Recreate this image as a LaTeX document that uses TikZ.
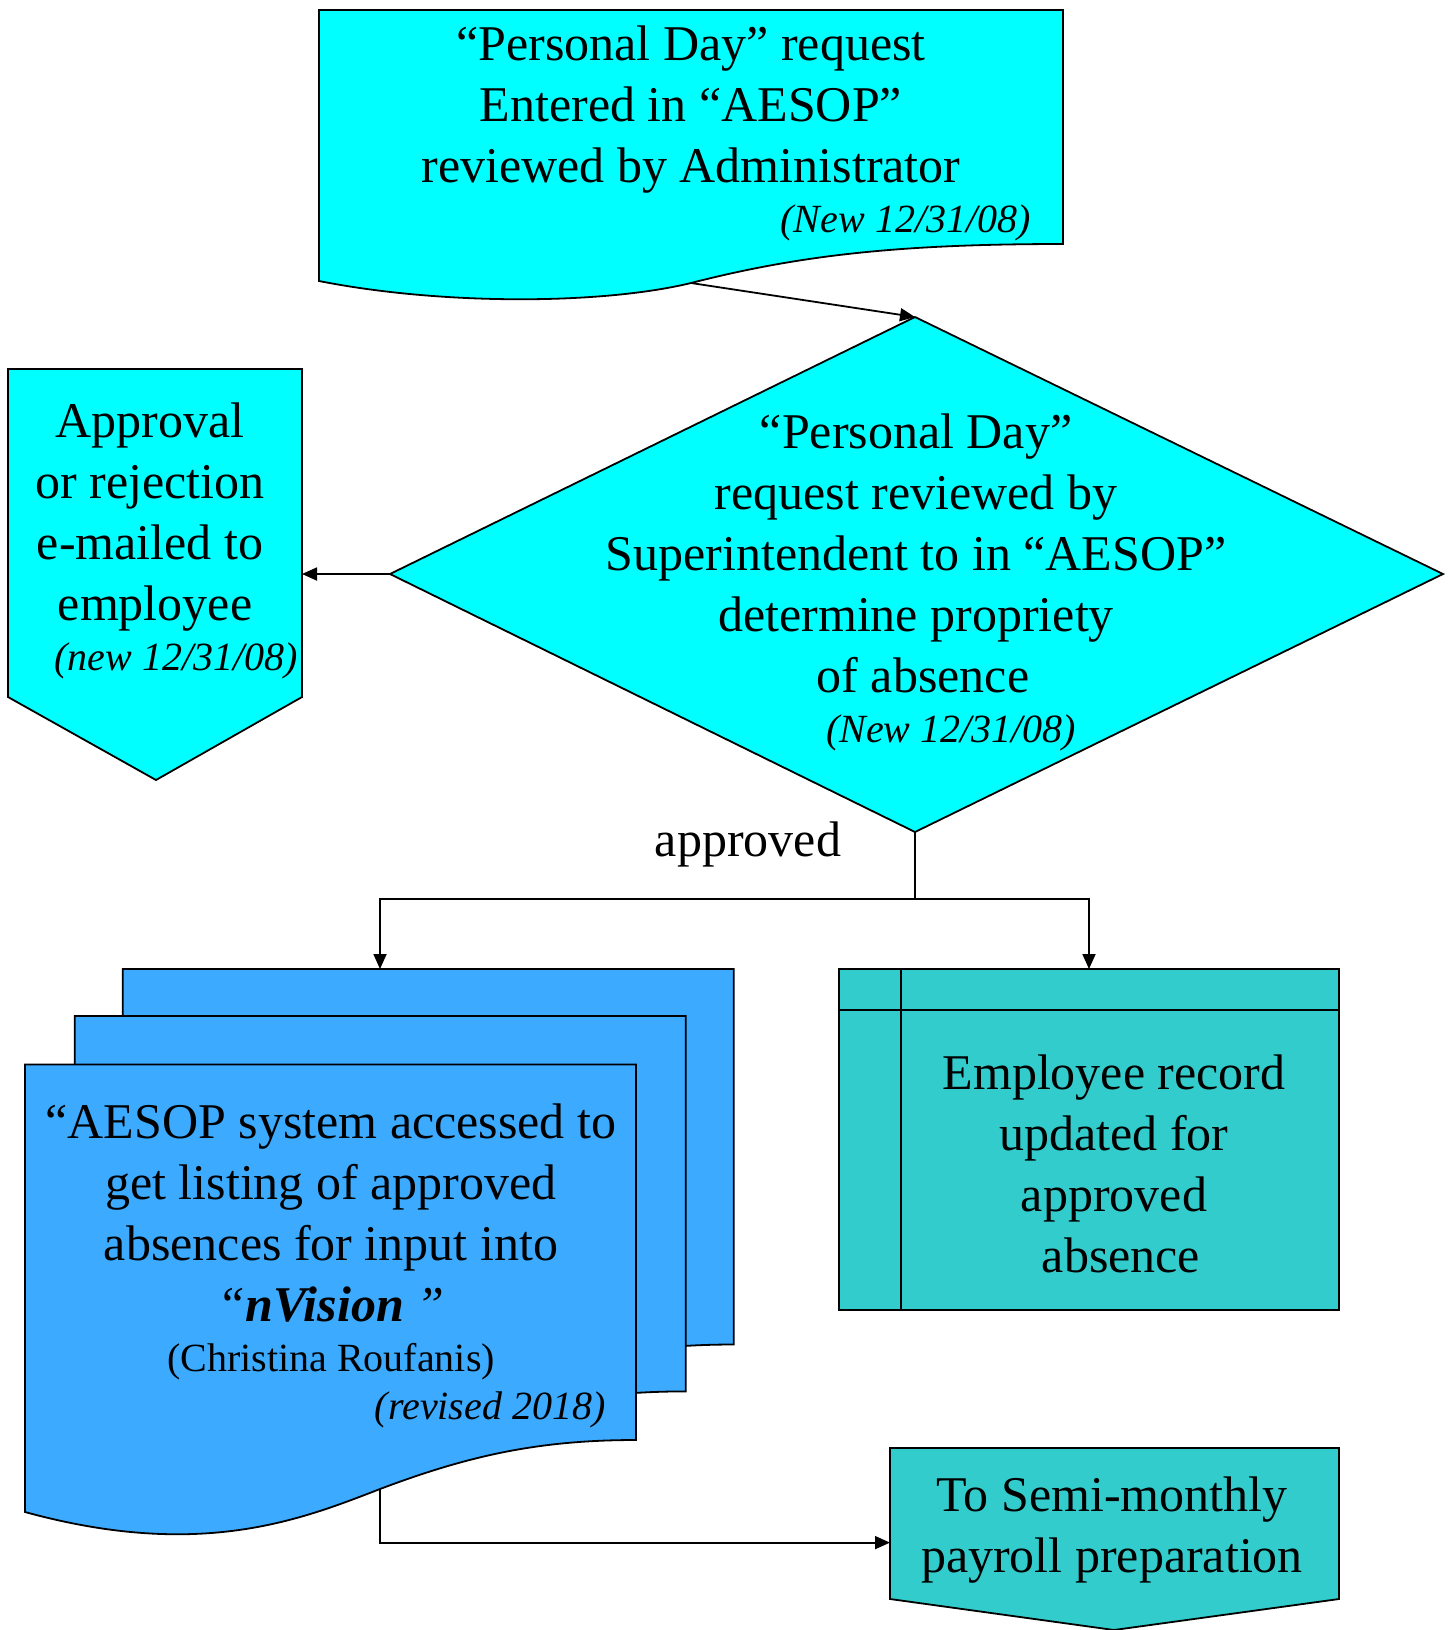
\documentclass[tikz,border=0pt]{standalone}
\usepackage{fontspec}
\setmainfont{Liberation Serif}
\usetikzlibrary{arrows.meta}
\definecolor{cyanfill}{HTML}{00FFFF}
\definecolor{bluefill}{HTML}{3BAAFF}
\definecolor{tealfill}{HTML}{33CCCC}
\begin{document}
\begin{tikzpicture}[x=0.5pt,y=-0.5pt,
  boxline/.style={draw=black, line width=0.9pt, line join=miter},
  plainline/.style={draw=black, line width=0.9pt},
  bigtext/.style={font=\fontsize{25}{30.5}\selectfont, align=center, inner sep=0pt},
  smalltext/.style={font=\fontsize{20}{24}\selectfont, inner sep=0pt},
  conn/.style={draw=black, line width=0.9pt, -{Triangle[length=7.5pt,width=6.5pt]}}]
\useasboundingbox (0,0) rectangle (1449,1630);

% top document
\draw[boxline, fill=cyanfill] (319,10) -- (1063,10) -- (1063,244)
  .. controls (900,244) and (800,255) .. (691,283)
  .. controls (600,305) and (440,305) .. (319,281) -- cycle;
\coordinate (docOut) at (691,283);
\node[bigtext] (t1) at (691,110) {“Personal Day” request\\Entered in “AESOP”\\reviewed by Administrator};
\node[smalltext, anchor=east] (t1d) at (1031,223) {\itshape (New 12/31/08)};

% diamond
\coordinate (dT) at (915,317);
\coordinate (dR) at (1443,574);
\coordinate (dB) at (915,832);
\coordinate (dL) at (390,574);
\draw[boxline, fill=cyanfill] (dT) -- (dR) -- (dB) -- (dL) -- cycle;
\node[bigtext] (t2) at (916,553) {“Personal Day”\\request reviewed by\\Superintendent to in “AESOP”\\determine propriety\\\hspace*{7pt}of absence};
\node[smalltext] (t2d) at (951,733) {\itshape (New 12/31/08)};

\draw[conn] (docOut) -- (dT);

% left off-page connector
\draw[boxline, fill=cyanfill] (8,369) -- (302,369) -- (302,697) -- (156,780) -- (8,697) -- cycle;
\coordinate (offR) at (302,574);
\node[bigtext] (t3) at (150,517) {Approval\\or rejection\\e-mailed to\\\hspace*{5pt}employee};
\node[smalltext] (t3d) at (176,661) {\itshape (new 12/31/08)};
\draw[conn] (dL) -- (offR);

% branch
\draw[plainline] (dB) -- (915,899) coordinate (br);
\node[bigtext] (lab) at (748,844) {approved};
\coordinate (mdTop) at (380,969);
\coordinate (erTop) at (1089,969);
\draw[conn] (br) -| (mdTop);
\draw[conn] (br) -| (erTop);

% multi-document
\foreach \dx/\dy in {97.7/-95.5, 49.8/-48.6, 0/0} {
  \draw[boxline, fill=bluefill, shift={(\dx,\dy)}] (25,1064.5) -- (636,1064.5) -- (636,1440)
    .. controls (540,1440) and (470,1455) .. (380,1489)
    .. controls (300,1520) and (200,1560) .. (25,1512) -- cycle;
}
\coordinate (mdOut) at (380,1489);
\node[bigtext] (t4) at (331,1213) {“AESOP system accessed to\\get listing of approved\\absences for input into\\\textit{“}\textbf{\textit{nVision}}\textit{ ”}};
\node[smalltext] (t4b) at (331,1362) {(Christina Roufanis)};
\node[smalltext, anchor=east] (t4d) at (606,1410) {\itshape (revised 2018)};

% internal storage
\draw[boxline, fill=tealfill] (839,969) rectangle (1339,1310);
\draw[plainline] (901,969) -- (901,1310);
\draw[plainline] (839,1010) -- (1339,1010);
\node[bigtext] (t5) at (1114,1164) {Employee record\\updated for\\approved\\\hspace*{7pt}absence};

% bottom off-page connector
\draw[boxline, fill=tealfill] (890,1448) -- (1339,1448) -- (1339,1599) -- (1114,1630) -- (890,1599) -- cycle;
\coordinate (opL) at (890,1542.6);
\node[bigtext] (t6) at (1112,1530) {To Semi-monthly\\payroll preparation};
\draw[conn] (mdOut) |- (opL);
\end{tikzpicture}
\end{document}
